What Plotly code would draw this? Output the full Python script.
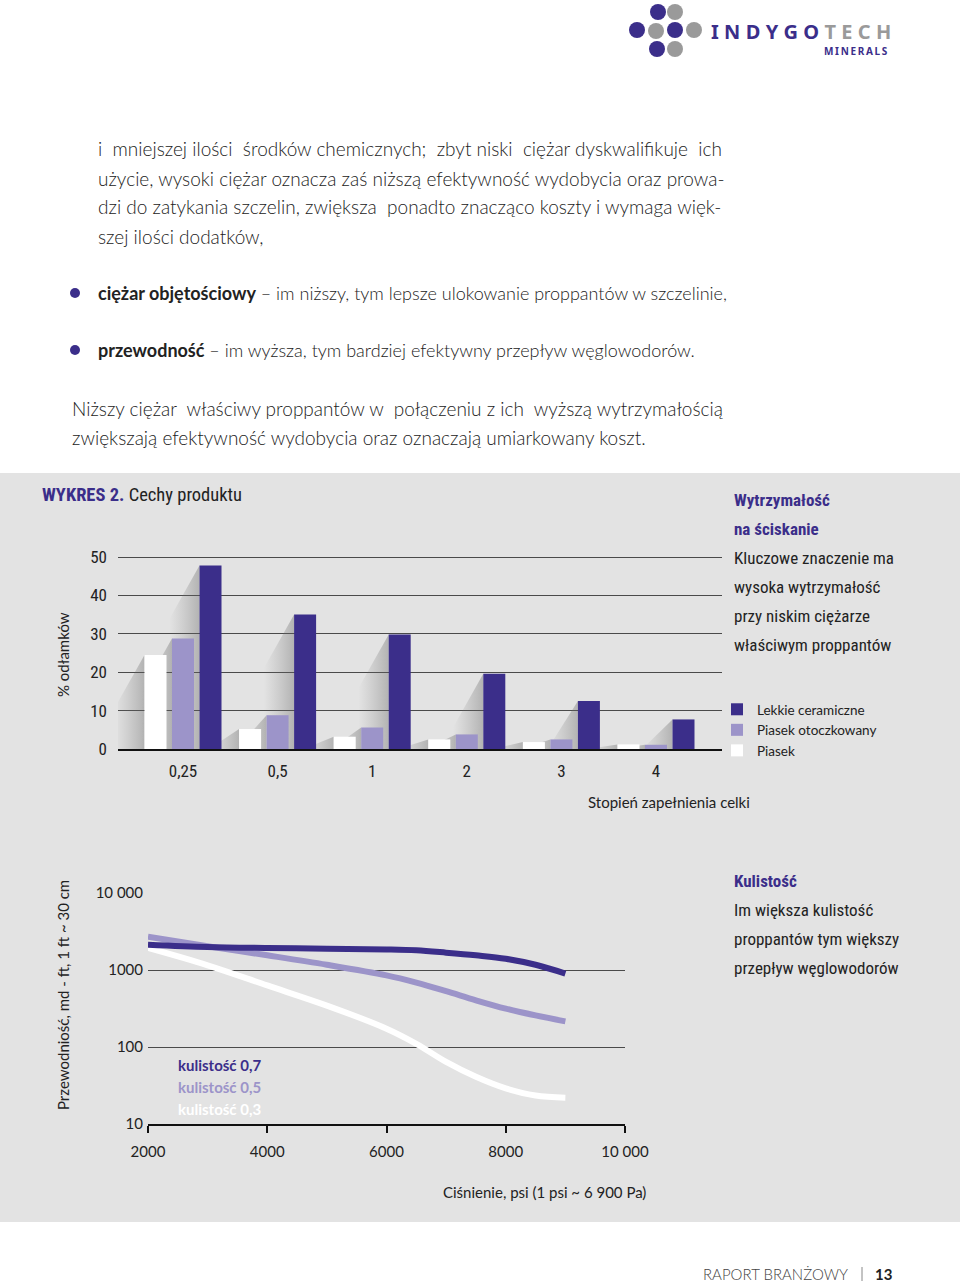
import plotly.graph_objects as go

W, H = 960, 1282


def X(px):
    return px / W


def Y(py):
    return 1 - py / H


PURPLE = "#3b2e8a"
LILAC = "#9c94c9"
WHITE = "#ffffff"
BG = "#e3e3e3"
TXT = "#222222"
BODY = "#222222"
COND = "Roboto Condensed, DejaVu Sans Condensed, sans-serif"
LATO = "Lato, Noto Sans, sans-serif"

# ---------------- data: bar chart (WYKRES 2) ----------------
fill_levels = ["0,25", "0,5", "1", "2", "3", "4"]
piasek = [24.5, 5.2, 3.2, 2.5, 1.8, 1.2]
piasek_otoczkowany = [28.8, 8.8, 5.6, 3.8, 2.5, 1.1]
lekkie_ceramiczne = [47.8, 35.0, 29.8, 19.6, 12.5, 7.7]
bar_y_ticks = [0, 10, 20, 30, 40, 50]

# ---------------- data: line chart (Kulistość) ----------------
pressure = [2000, 3000, 4000, 5000, 6000, 6500, 7000, 7500, 8000, 8500, 9000]
kulistosc_07 = [2130, 1990, 1930, 1890, 1850, 1800, 1680, 1550, 1400, 1170, 900]
kulistosc_05 = [2700, 2030, 1550, 1170, 850, 685, 530, 404, 315, 257, 215]
kulistosc_03 = [1930, 1150, 630, 345, 173, 110, 64, 41, 29, 23.4, 22]
line_y_ticks = [10, 100, 1000, 10000]
line_y_ticktext = ["10", "100", "1000", "10 000"]
line_x_ticks = [2000, 4000, 6000, 8000, 10000]
line_x_ticktext = ["2000", "4000", "6000", "8000", "10 000"]

fig = go.Figure()

# bar geometry (group mode)
BARGAP = 0.128
BARGROUPGAP = 0.2
slot = (1 - BARGAP) / 3
half_w = slot * (1 - BARGROUPGAP) / 2
series = [
    ("Piasek", piasek, WHITE),
    ("Piasek otoczkowany", piasek_otoczkowany, LILAC),
    ("Lekkie ceramiczne", lekkie_ceramiczne, PURPLE),
]
xpos = list(range(len(fill_levels)))

# decorative soft shadows behind bars (base axes x/y)
SW = 0.32
DROP = 14
for k, (_, vals, _) in enumerate(series):
    for i, v in enumerate(vals):
        xl = i + (k - 1) * slot - half_w
        fig.add_trace(go.Scatter(
            x=[xl, xl, xl - SW, xl - SW, xl],
            y=[v, 0, 0, max(v - DROP, 0), v],
            mode="lines", line=dict(width=0), fill="toself",
            fillgradient=dict(type="horizontal",
                              colorscale=[[0, "rgba(120,120,120,0)"],
                                          [1, "rgba(100,100,100,0.38)"]]),
            hoverinfo="skip", showlegend=False, xaxis="x", yaxis="y"))

# bars (overlay axes x2/y2)
for name, vals, col in series:
    fig.add_trace(go.Bar(x=xpos, y=vals, name=name, marker=dict(color=col, line=dict(width=0)),
                         xaxis="x2", yaxis="y2"))

# lines
for vals, col in [(kulistosc_03, WHITE), (kulistosc_05, LILAC), (kulistosc_07, PURPLE)]:
    fig.add_trace(go.Scatter(x=pressure, y=vals, mode="lines",
                             line=dict(color=col, width=6, shape="spline", smoothing=1.0),
                             showlegend=False, xaxis="x3", yaxis="y3"))

# axes domains
bx_dom = [X(118), X(722)]
bx_range = [(118 - 183) / 94.6, (722 - 183) / 94.6]
by_range = [0, 50.5]
by_dom = [Y(749), Y(749 - 50.5 * 3.84)]

lx_dom = [X(148), X(625)]
ly_dom = [Y(1124), Y(1124 - 3.01 * 77)]

tickfont = dict(family=LATO, size=15, color=TXT)
condtick = dict(family=COND, size=17, color=TXT)

fig.update_layout(
    width=W, height=H, margin=dict(l=0, r=0, t=0, b=0, pad=0, autoexpand=False),
    paper_bgcolor="white", plot_bgcolor="rgba(0,0,0,0)",
    barmode="group", bargap=BARGAP, bargroupgap=BARGROUPGAP,
    xaxis=dict(domain=bx_dom, range=bx_range, anchor="y", tickvals=xpos, ticktext=fill_levels,
               showgrid=False, zeroline=False, showline=True, linecolor="#111", linewidth=2,
               ticks="", tickfont=condtick, ticklabelstandoff=6, automargin=False,
               fixedrange=True),
    yaxis=dict(domain=by_dom, range=by_range, anchor="x", tickvals=bar_y_ticks,
               showgrid=True, gridcolor="#4a4a4a", gridwidth=1, zeroline=False,
               tickfont=condtick, ticklabelstandoff=10, automargin=False, fixedrange=True),
    xaxis2=dict(overlaying="x", anchor="y2", range=bx_range, visible=False, fixedrange=True),
    yaxis2=dict(overlaying="y", anchor="x2", range=by_range, visible=False, fixedrange=True),
    xaxis3=dict(domain=lx_dom, range=[2000, 10000], anchor="y3", tickvals=line_x_ticks,
                ticktext=line_x_ticktext, showgrid=False, zeroline=False, showline=True,
                linecolor="#111", linewidth=2, ticks="outside", ticklen=7, tickwidth=2,
                tickcolor="#111", tickfont=tickfont, ticklabelstandoff=6, automargin=False,
                fixedrange=True),
    yaxis3=dict(domain=ly_dom, type="log", range=[1, 4.01], anchor="x3", tickvals=line_y_ticks,
                ticktext=line_y_ticktext, showgrid=True, gridcolor="#4a4a4a", gridwidth=1,
                zeroline=False, tickfont=tickfont, ticklabelstandoff=4, automargin=False,
                fixedrange=True),
    legend=dict(x=X(717), y=Y(694), xanchor="left", yanchor="top", traceorder="reversed",
                font=dict(family=LATO, size=13.5, color=TXT), bgcolor="rgba(0,0,0,0)",
                itemclick=False, itemdoubleclick=False, tracegroupgap=0),
    showlegend=True,
)

shapes = []
# gray panel
shapes.append(dict(type="rect", xref="paper", yref="paper", x0=0, x1=1, y0=Y(1222), y1=Y(473),
                   fillcolor=BG, line=dict(width=0), layer="below"))
# bullets
for by in (293, 350):
    shapes.append(dict(type="circle", xref="paper", yref="paper", x0=X(70), x1=X(80),
                       y0=Y(by + 5), y1=Y(by - 5), fillcolor=PURPLE, line=dict(width=0)))
# footer separator
shapes.append(dict(type="line", xref="paper", yref="paper", x0=X(862), x1=X(862),
                   y0=Y(1281), y1=Y(1267), line=dict(color="#888", width=1)))
# logo icon
GRAY = "#9a9a9a"
logo_pts = [(658, 12, PURPLE), (675, 12, GRAY), (637, 30, PURPLE), (656, 31, GRAY),
            (675, 30, PURPLE), (694, 30, GRAY), (657, 49, PURPLE), (675, 49, GRAY)]
for cx, cy, c in logo_pts:
    shapes.append(dict(type="circle", xref="paper", yref="paper", x0=X(cx - 8), x1=X(cx + 8),
                       y0=Y(cy + 8), y1=Y(cy - 8), fillcolor=c, line=dict(width=0)))
fig.update_layout(shapes=shapes)

ann = []


def txt(x, y, s, size=18, color=BODY, family=LATO, xanchor="left", weight=None, angle=0):
    f = dict(family=family, size=size, color=color)
    if weight:
        f["weight"] = weight
    ann.append(dict(x=X(x), y=Y(y), xref="paper", yref="paper", text=s, showarrow=False,
                    xanchor=xanchor, yanchor="middle", font=f, textangle=angle))


def widen(s, n):
    """add a non-breaking space to n evenly spread word gaps (imitates justified text)"""
    parts = s.split(" ")
    gaps = len(parts) - 1
    picks = {round((j + 0.5) * gaps / n - 0.5) for j in range(n)} if n else set()
    out = parts[0]
    for j, p in enumerate(parts[1:]):
        out += (" \u00a0" if j in picks else " ") + p
    return out


# logo text
TS = "\u2009\u200a"
txt(709, 31, TS.join("INDYGO") + TS + f"<span style='color:{GRAY}'>" + TS.join("TECH") + "</span>",
    size=20, color=PURPLE, family="Noto Sans, sans-serif", weight=700)
txt(890, 51, "\u2009".join("MINERALS"), size=10, color=PURPLE, family="Noto Sans, sans-serif",
    weight=700, xanchor="right")

# body text
para1 = [
    widen("i mniejszej ilości środków chemicznych; zbyt niski ciężar dyskwalifikuje ich", 5),
    "użycie, wysoki ciężar oznacza zaś niższą efektywność wydobycia oraz prowa-",
    widen("dzi do zatykania szczelin, zwiększa ponadto znacząco koszty i wymaga więk-", 1),
    "szej ilości dodatków,",
]
for j, line in enumerate(para1):
    txt(96, 149 + 29 * j, line, size=19, weight=300)
txt(96, 293, "<b>ciężar objętościowy</b> – im niższy, tym lepsze ulokowanie proppantów w szczelinie,",
    size=18, weight=300)
txt(96, 350, "<b>przewodność</b> – im wyższa, tym bardziej efektywny przepływ węglowodorów.",
    size=18, weight=300)
txt(70, 408, widen("Niższy ciężar właściwy proppantów w połączeniu z ich wyższą wytrzymałością", 3),
    size=19, weight=300)
txt(70, 437, "zwiększają efektywność wydobycia oraz oznaczają umiarkowany koszt.", size=19, weight=300)

# chart 1 title and texts
txt(40, 495, f"<b><span style='color:{PURPLE}'>WYKRES 2.</span></b> Cechy produktu", size=18.5,
    color=TXT, family=COND)
side1 = [("<b>Wytrzymałość</b>", PURPLE), ("<b>na ściskanie</b>", PURPLE),
         ("Kluczowe znaczenie ma", TXT), ("wysoka wytrzymałość", TXT),
         ("przy niskim ciężarze", TXT), ("właściwym proppantów", TXT)]
for j, (s, c) in enumerate(side1):
    txt(732, 500 + 29 * j, s, size=17, color=c, family=COND)
txt(63, 655, "% odłamków", size=15, color=TXT, xanchor="center", angle=-90)
txt(669, 802, "Stopień zapełnienia celki", size=15, color=TXT, xanchor="center")

# chart 2 texts
side2 = [("<b>Kulistość</b>", PURPLE), ("Im większa kulistość", TXT),
         ("proppantów tym większy", TXT), ("przepływ węglowodorów", TXT)]
for j, (s, c) in enumerate(side2):
    txt(732, 881 + 29 * j, s, size=17, color=c, family=COND)
txt(63, 995, "Przewodniość, md - ft, 1 ft ~ 30 cm", size=15, color=TXT, xanchor="center", angle=-90)
txt(544, 1192, "Ciśnienie, psi (1 psi ~ 6 900 Pa)", size=15, color=TXT, xanchor="center")
txt(176, 1065, "<b>kulistość 0,7</b>", size=15, color=PURPLE)
txt(176, 1087, "<b>kulistość 0,5</b>", size=15, color=LILAC)
txt(176, 1109, "<b>kulistość 0,3</b>", size=15, color=WHITE)

# footer
txt(850, 1274, "RAPORT BRANŻOWY", size=15, color="#444", xanchor="right", weight=300)
txt(873, 1274, "<b>13</b>", size=15, color="#222")

fig.update_layout(annotations=ann)
fig.write_html("out.html", config={"displayModeBar": False},
               post_script="document.body.style.margin='0';document.body.style.overflow='hidden';")
